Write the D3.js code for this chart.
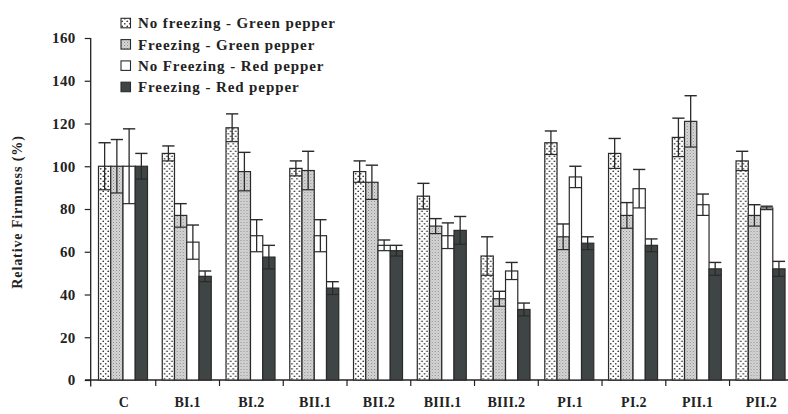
<!DOCTYPE html>
<html><head><meta charset="utf-8">
<script src="https://cdn.jsdelivr.net/npm/d3@7"></script>
<style>
html,body{margin:0;padding:0;background:#fff;}
svg{display:block;}
text{font-family:"Liberation Serif","DejaVu Serif",serif;font-weight:bold;fill:#222;}
</style></head>
<body>
<svg id="chart" width="788" height="414"></svg>
<script>
const categories = ["C","BI.1","BI.2","BII.1","BII.2","BIII.1","BIII.2","PI.1","PI.2","PII.1","PII.2"];
const seriesNames = ["No freezing - Green pepper","Freezing - Green pepper","No Freezing - Red pepper","Freezing - Red pepper"];
const noFreezeGreen    = [100, 106, 118, 99, 97.5, 86, 58, 111, 106, 113.5, 102.5];
const noFreezeGreenErr = [11, 3.5, 6.5, 3.5, 5, 6, 9, 5.5, 7, 9, 4.5];
const freezeGreen      = [100, 77, 97.5, 98, 92.5, 72, 38, 67, 77, 121, 77];
const freezeGreenErr   = [12.5, 5.5, 9, 9, 8, 3.5, 3.5, 6, 6, 12, 5];
const noFreezeRed      = [100, 64.5, 67.5, 67.5, 63, 67.5, 51, 95, 89.5, 82, 80.5];
const noFreezeRedErr   = [17.5, 8, 7.5, 7.5, 2.5, 6, 4, 5, 9, 5, 0.8];
const freezeRed        = [100, 48.5, 57.5, 43, 60.5, 70, 33, 64, 63, 52, 52];
const freezeRedErr     = [6, 2.5, 5.5, 3, 2.5, 6.5, 3, 3, 3, 3, 3.5];
const yTicks = [0, 20, 40, 60, 80, 100, 120, 140, 160];

const values = [noFreezeGreen, freezeGreen, noFreezeRed, freezeRed];
const errors = [noFreezeGreenErr, freezeGreenErr, noFreezeRedErr, freezeRedErr];
const fills = ["url(#dots)", "url(#grey)", "#ffffff", "#3f4545"];

const svg = d3.select("#chart");
const defs = svg.append("defs");
const pd = defs.append("pattern").attr("id","dots").attr("patternUnits","userSpaceOnUse")
  .attr("width",5).attr("height",5);
pd.append("rect").attr("width",5).attr("height",5).attr("fill","#fff");
pd.append("circle").attr("cx",1.25).attr("cy",1.25).attr("r",0.85).attr("fill","#333");
pd.append("circle").attr("cx",3.75).attr("cy",3.75).attr("r",0.85).attr("fill","#333");
const pg = defs.append("pattern").attr("id","grey").attr("patternUnits","userSpaceOnUse")
  .attr("width",3).attr("height",3);
pg.append("rect").attr("width",3).attr("height",3).attr("fill","#d6d6d6");
pg.append("rect").attr("x",0).attr("y",0).attr("width",1).attr("height",1).attr("fill","#8a8a8a");
pg.append("rect").attr("x",1.5).attr("y",1.5).attr("width",1).attr("height",1).attr("fill","#a8a8a8");

const y = d3.scaleLinear().domain([0,160]).range([380, 38]);
const x = d3.scaleBand().domain(categories).range([92, 793.3]).padding(0);
const xs = d3.scaleBand().domain(d3.range(4)).range([6.5, 55.5]).padding(0);

// axes
const yAxis = d3.axisLeft(y).tickValues(yTicks).tickSize(6).tickPadding(9);
const gy = svg.append("g").attr("transform","translate(90.7,0)").call(yAxis);
gy.select(".domain").remove();
gy.selectAll(".tick line").attr("stroke","#222").attr("stroke-width",1.2);
gy.selectAll(".tick text").style("font-size","15px").style("letter-spacing","0.4px").attr("fill","#222");
svg.append("line").attr("x1",90.7).attr("x2",90.7).attr("y1",y(160)).attr("y2",386.5)
  .attr("stroke","#222").attr("stroke-width",1.3);
svg.append("line").attr("x1",85).attr("x2",788).attr("y1",380).attr("y2",380)
  .attr("stroke","#222").attr("stroke-width",1.3);

// x ticks at category boundaries
svg.append("g").selectAll("line").data(categories).join("line")
  .attr("x1",d=>x(d)+x.bandwidth()).attr("x2",d=>x(d)+x.bandwidth())
  .attr("y1",380).attr("y2",386).attr("stroke","#222").attr("stroke-width",1.2);

// category labels
svg.append("g").selectAll("text").data(categories).join("text")
  .attr("x",d=>x(d)+x.bandwidth()/2).attr("y",407).attr("text-anchor","middle")
  .style("font-size","14px").style("letter-spacing","0.3px").text(d=>d);

// y title
svg.append("text").attr("transform","translate(22,212) rotate(-90)")
  .attr("text-anchor","middle").style("font-size","14px").style("letter-spacing","0.9px")
  .text("Relative Firmness (%)");

// bars
const groups = svg.append("g").selectAll("g").data(categories).join("g")
  .attr("transform",d=>`translate(${x(d)},0)`);
groups.each(function(cat, ci){
  const g = d3.select(this);
  for (let s=0; s<4; s++){
    const v = values[s][ci], e = errors[s][ci];
    const bx = xs(s), bw = xs.bandwidth();
    g.append("rect").attr("x",bx).attr("y",y(v)).attr("width",bw).attr("height",380-y(v))
      .attr("fill",fills[s]).attr("stroke","#2a2a2a").attr("stroke-width",1.2);
    const cx = bx + bw/2;
    const ec = "#2a2a2a";
    g.append("line").attr("x1",cx).attr("x2",cx).attr("y1",y(v+e)).attr("y2",y(v-e))
      .attr("stroke",ec).attr("stroke-width",1.3);
    g.append("line").attr("x1",bx).attr("x2",bx+bw).attr("y1",y(v+e)).attr("y2",y(v+e))
      .attr("stroke",ec).attr("stroke-width",1.4);
    g.append("line").attr("x1",bx).attr("x2",bx+bw).attr("y1",y(v-e)).attr("y2",y(v-e))
      .attr("stroke",ec).attr("stroke-width",1.2);
  }
});

// legend
const lg = svg.append("g").attr("transform","translate(121,0)");
seriesNames.forEach((n,i)=>{
  const cy = 23.3 + i*21.3;
  lg.append("rect").attr("x",0).attr("y",cy-5).attr("width",9.5).attr("height",9.5)
    .attr("fill",fills[i]).attr("stroke","#2a2a2a").attr("stroke-width",1.1);
  lg.append("text").attr("x",17).attr("y",cy+5).style("font-size","15px")
    .style("letter-spacing","0.9px").text(n);
});
</script>
</body></html>
